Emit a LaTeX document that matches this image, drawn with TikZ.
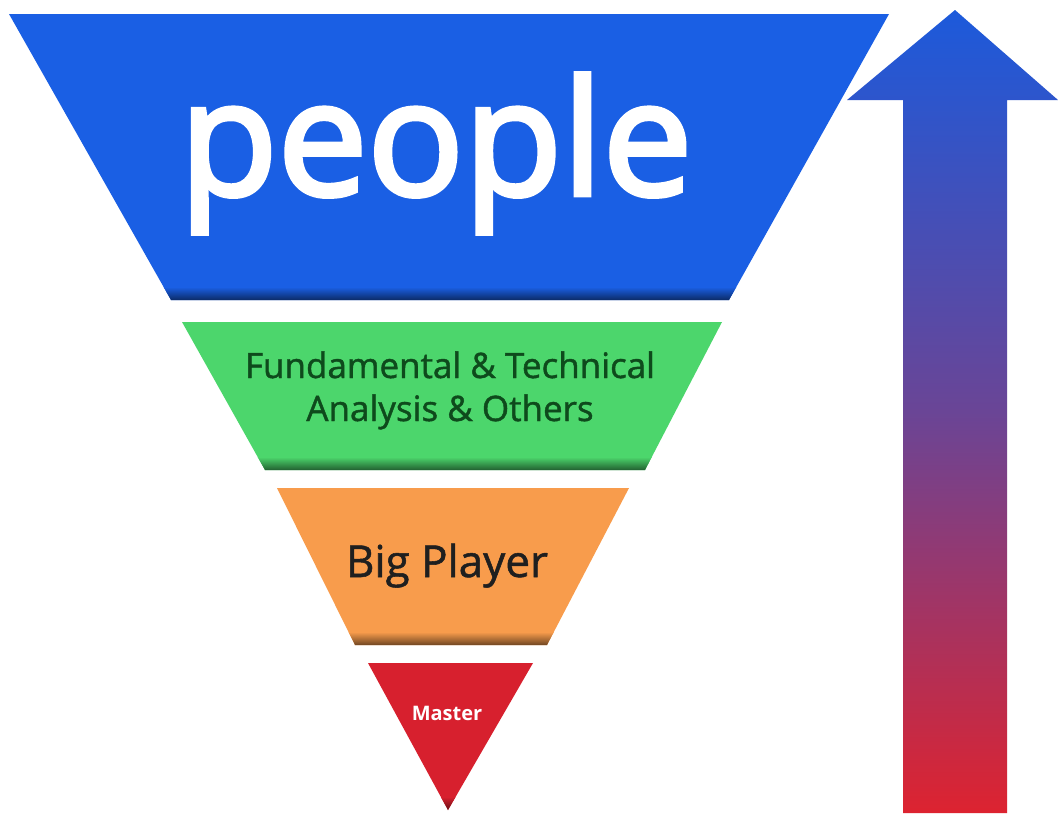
\documentclass[tikz,border=0pt]{standalone}
\usepackage{fontspec}
\setmainfont{Open Sans}
\newfontfamily\semifont[FakeBold=1.2]{Open Sans}
\newfontfamily\peoplefont[FakeBold=3]{Open Sans}
\definecolor{cblue}{HTML}{1A5FE4}
\definecolor{cgreen}{HTML}{4CD66C}
\definecolor{corange}{HTML}{F89C4C}
\definecolor{cred}{HTML}{D7202E}
\definecolor{tgreen}{HTML}{0E4A1C}
\definecolor{arrtop}{HTML}{1C5ADB}
\definecolor{arrmid}{HTML}{6A4596}
\definecolor{arrbot}{HTML}{DD2330}
\tikzset{
  lbl/.style={inner sep=0pt, align=center},
}
\newcommand{\bevelshape}[3]{% color, path, bottom y
  \fill[#1] #2;
  \begin{scope}
    \clip #2;
    \shade[top color=#1, bottom color=#1!45!black] (0,#3-13) rectangle (1058,#3);
  \end{scope}
}
\begin{document}
\begin{tikzpicture}[x=1pt,y=-1pt]
\useasboundingbox (0,0) rectangle (1058,815);
\fill[white] (0,0) rectangle (1058,815);
% blue
\bevelshape{cblue}{(9,14) -- (889,14) -- (729,300) -- (171,300) -- cycle}{300}
% green
\bevelshape{cgreen}{(182,322) -- (722,322) -- (645,470) -- (265,470) -- cycle}{470}
% orange
\bevelshape{corange}{(277,488) -- (629,488) -- (547,645) -- (355,645) -- cycle}{645}
% red triangle
\bevelshape{cred}{(368,663) -- (533,663) -- (448,810) -- cycle}{810}
% arrow
\shade[top color=arrtop, bottom color=arrbot, middle color=arrmid]
  (955,10) -- (1058,100) -- (1007,100) -- (1007,813) -- (903,813) -- (903,100) -- (847,100) -- cycle;
% texts
\node[lbl, text=white, font=\peoplefont\fontsize{160}{162}\selectfont, anchor=base] (people) at (436,195) {people};
\node[lbl, text=tgreen, font=\semifont\fontsize{35}{43}\selectfont, anchor=base] (fund) at (450,421) {Fundamental \& Technical\\Analysis \& Others};
\node[lbl, text=black!88, font=\semifont\fontsize{44}{46}\selectfont, anchor=base] (big) at (447,577) {Big Player};
\node[lbl, text=white, font=\bfseries\fontsize{20}{22}\selectfont, anchor=base] (master) at (447,720) {Master};
\end{tikzpicture}
\end{document}
